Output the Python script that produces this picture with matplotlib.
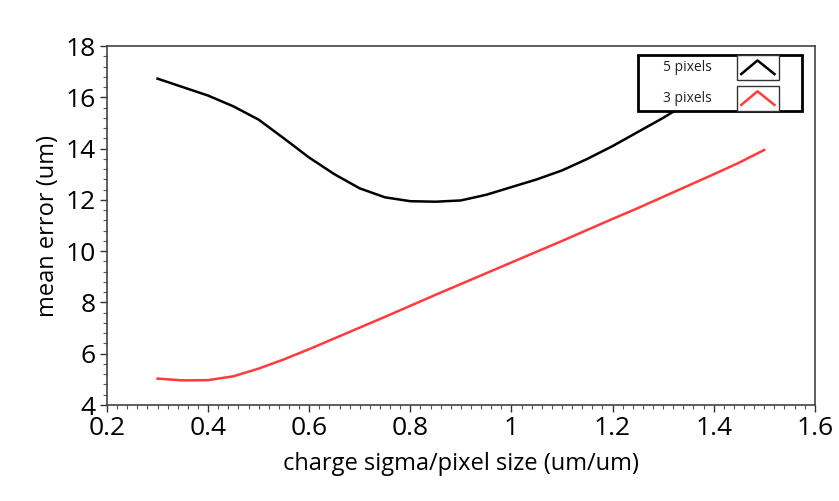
import matplotlib
matplotlib.use("Agg")
import matplotlib.pyplot as plt
from matplotlib.patches import Rectangle
from matplotlib.lines import Line2D
from matplotlib.ticker import MultipleLocator

plt.rcParams['font.family'] = ['Open Sans', 'DejaVu Sans']

# data
x = [0.30, 0.35, 0.40, 0.45, 0.50, 0.55, 0.60, 0.65, 0.70, 0.75, 0.80, 0.85, 0.90,
     0.95, 1.00, 1.05, 1.10, 1.15, 1.20, 1.25, 1.30, 1.35, 1.40, 1.45, 1.50]
err_5px = [16.73, 16.40, 16.07, 15.65, 15.13, 14.40, 13.65, 13.00, 12.45, 12.10, 11.95, 11.93, 11.98,
           12.20, 12.50, 12.80, 13.15, 13.60, 14.10, 14.65, 15.20, 15.80, 16.35, 16.85, 17.30]
err_3px = [5.03, 4.96, 4.97, 5.12, 5.42, 5.78, 6.18, 6.60, 7.02, 7.44, 7.87, 8.30, 8.72,
           9.14, 9.56, 9.98, 10.40, 10.83, 11.26, 11.68, 12.12, 12.56, 13.00, 13.45, 13.95]
labels = ['5 pixels', '3 pixels']
colors = ['black', '#ff3b3b']

fig = plt.figure(figsize=(8.39, 5.01), dpi=100)
ax = fig.add_axes([0.1275, 0.1916, 0.8437, 0.7164])

ax.plot(x, err_5px, color=colors[0], lw=1.8)
ax.plot(x, err_3px, color=colors[1], lw=1.8)

ax.set_xlim(0.2, 1.6)
ax.set_ylim(4, 18)
ax.xaxis.set_major_locator(MultipleLocator(0.2))
ax.xaxis.set_minor_locator(MultipleLocator(0.02))
ax.yaxis.set_major_locator(MultipleLocator(2))
ax.yaxis.set_minor_locator(MultipleLocator(0.4))
ax.set_xticks([0.2, 0.4, 0.6, 0.8, 1.0, 1.2, 1.4, 1.6],
              ['0.2', '0.4', '0.6', '0.8', '1', '1.2', '1.4', '1.6'])
ax.tick_params(which='major', length=5, width=1, labelsize=19, color='#333333', pad=3)
ax.tick_params(which='minor', length=3, width=0.8, color='#555555')
for s in ax.spines.values():
    s.set_color('#444444')
    s.set_linewidth(1.2)

ax.set_xlabel('charge sigma/pixel size (um/um)', fontsize=17, labelpad=8)
ax.set_ylabel('mean error (um)', fontsize=17, labelpad=4)

# legend box drawn by hand to mimic the swatch style
ax.add_patch(Rectangle((0.75, 0.819), 0.232, 0.156, transform=ax.transAxes,
                       facecolor='white', edgecolor='black', lw=2, zorder=5))
rows = [(0.905, 0.975), (0.819, 0.889)]
for (y0, y1), lab, c in zip(rows, labels, colors):
    ax.add_patch(Rectangle((0.89, y0), 0.059, y1 - y0, transform=ax.transAxes,
                           facecolor='white', edgecolor='#333333', lw=1, zorder=6))
    ym = (y0 + y1) / 2
    ax.add_line(Line2D([0.896, 0.919, 0.943], [ym - 0.018, ym + 0.02, ym - 0.018],
                       transform=ax.transAxes, color=c, lw=1.8, zorder=7))
    ax.text(0.82, ym, lab, transform=ax.transAxes, ha='center', va='center',
            fontsize=10, color='#222222', zorder=7)

fig.savefig('out.png', dpi=100)
